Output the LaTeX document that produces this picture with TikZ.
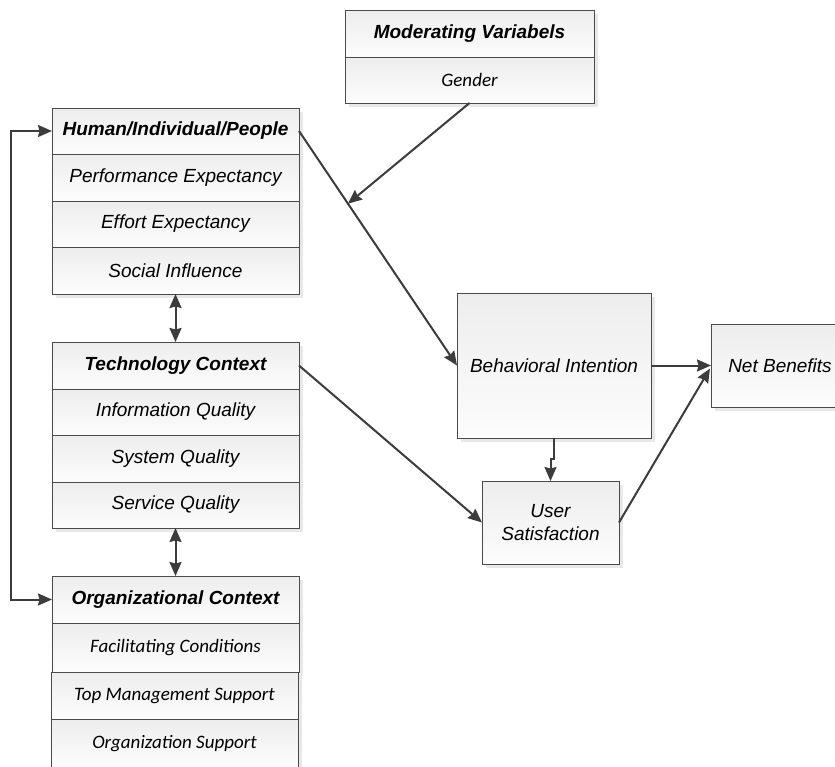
\documentclass[tikz,border=0pt]{standalone}
\usepackage{fontspec}
\setmainfont{Liberation Sans}
\newfontfamily\carlfont{Carlito}
\usetikzlibrary{arrows.meta,shadows,calc}

\definecolor{edge}{HTML}{4A4A4A}
\definecolor{wire}{HTML}{3C3C3C}

\tikzset{
  tip/.tip={Stealth[length=14pt, width=12pt, inset=1.5pt]},
  box/.style={draw=edge, line width=0.9pt, inner sep=0pt, outer sep=0pt,
    top color=black!7, bottom color=black!1,
    drop shadow={shadow xshift=4pt, shadow yshift=-4pt, fill=black!9, opacity=1},
    font=\fontsize{19}{23}\selectfont\itshape, align=center},
  cell/.style={box, minimum width=247pt},
  head/.style={cell, font=\fontsize{19}{23}\selectfont\bfseries\itshape},
  soft/.style={cell, font=\fontsize{19}{23}\selectfont\carlfont\itshape},
  link/.style={draw=wire, line width=2pt, -tip},
  twoway/.style={link, tip-tip}
}

\begin{document}
\begin{tikzpicture}[x=1pt, y=-1pt]
\useasboundingbox (0,0) rectangle (835,766);

% Moderating variables
\node[head, minimum width=249pt, minimum height=47pt] (mod) at (469.5,33.5) {Moderating Variabels};
\node[soft, minimum width=249pt, minimum height=46pt] (gen) at (469.5,80) {Gender};

% Human / individual / people
\node[head, minimum height=46pt] (hum) at (175.5,131) {Human/Individual/People};
\node[cell, minimum height=47pt] (pe) at (175.5,177.5) {Performance Expectancy};
\node[cell, minimum height=46pt] (ee) at (175.5,224) {Effort Expectancy};
\node[cell, minimum height=47pt] (si) at (175.5,270.5) {Social Influence};

% Technology context
\node[head, minimum height=47pt] (tec) at (175.5,365.5) {Technology Context};
\node[cell, minimum height=46pt] (iq) at (175.5,412) {Information Quality};
\node[cell, minimum height=47pt] (sq) at (175.5,458.5) {System Quality};
\node[cell, minimum height=46pt] (svq) at (175.5,505) {Service Quality};

% Organizational context
\node[head, minimum height=47pt] (org) at (175.5,599.5) {Organizational Context};
\node[soft, minimum height=49pt] (fc) at (175.5,647.5) {Facilitating Conditions};
\node[soft, minimum height=47pt] (tms) at (174.5,695.5) {Top Management Support};
\node[soft, minimum height=49pt] (os) at (174.5,743.5) {Organization Support};

% Outcomes
\node[box, minimum width=194pt, minimum height=145pt] (bi) at (554,365.5) {Behavioral Intention};
\node[box, minimum width=138pt, minimum height=83pt] (nb) at (780,365.5) {Net Benefits};
\node[box, minimum width=137pt, minimum height=83pt] (us) at (550.5,522.5) {User\\Satisfaction};

% Connectors
\draw[link] (hum.east) -- (bi.west);
\coordinate (modpt) at ($(hum.east)!0.31!(bi.west)$);
\draw[link] (gen.south) -- (modpt);
\draw[link] (tec.east) -- (us.west);
\draw[link] (bi.south) -- ++(0,21) -| (us.north);
\draw[link] (bi.east) -- (nb.west);
\draw[link] (us.east) -- ($(nb.west)+(-1,3)$);

\draw[twoway] (si.south) -- (tec.north);
\draw[twoway] (svq.south) -- (org.north);
\draw[twoway] (hum.west) -- ++(-41,0) |- (org.west);
\end{tikzpicture}
\end{document}
